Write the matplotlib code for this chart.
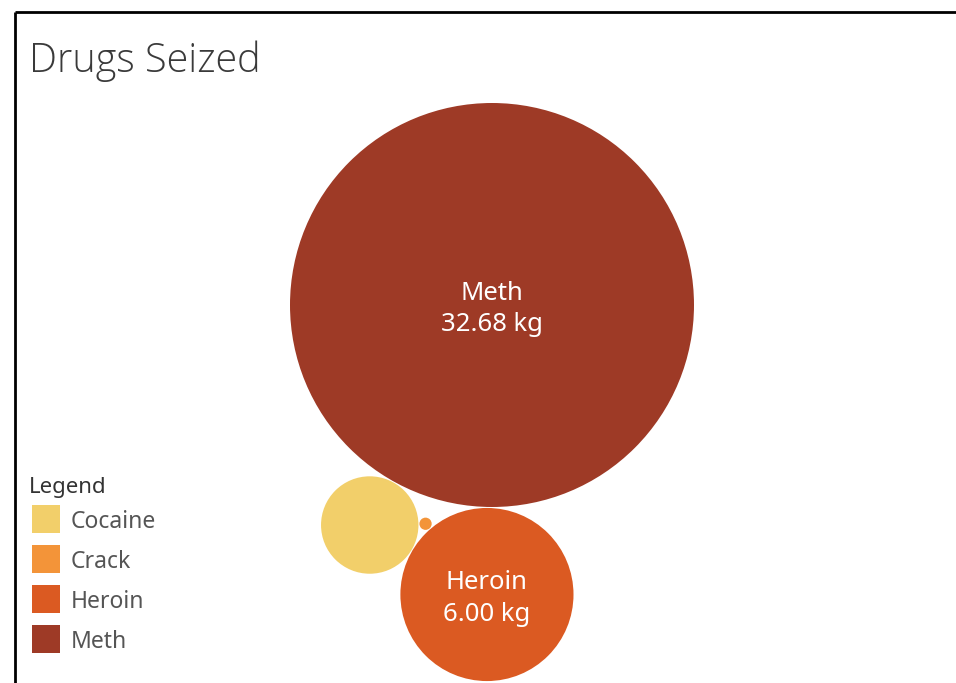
import numpy as np
import matplotlib.pyplot as plt
from matplotlib.patches import Circle, Rectangle

# ---- data ----
drugs = ["Cocaine", "Crack", "Heroin", "Meth"]
amounts_kg = [1.90, 0.03, 6.00, 32.68]
colors = ["#F2CF6A", "#F39439", "#DB5A22", "#9E3A26"]
labeled = ["Heroin", "Meth"]
title = "Drugs Seized"
legend_title = "Legend"

W, H = 956, 683
fig = plt.figure(figsize=(W / 100, H / 100), dpi=100)
ax = fig.add_axes([0, 0, 1, 1])
ax.set_xlim(0, W)
ax.set_ylim(H, 0)
ax.set_aspect("equal")
ax.axis("off")

FONT = "Noto Sans"

# border lines
ax.plot([15, W], [12, 12], color="black", lw=2, solid_capstyle="butt")
ax.plot([15, 15], [12, H], color="black", lw=2, solid_capstyle="butt")

# title
ax.text(29, 61, title, fontsize=28.5, color="#3a3a3a", family=["Open Sans", FONT],
        fontweight="light", va="center", ha="left")

# radius scale (area proportional to value)
val = dict(zip(drugs, amounts_kg))
col = dict(zip(drugs, colors))
k = 202 / np.sqrt(max(amounts_kg))
rad = {d: k * np.sqrt(v) for d, v in val.items()}
gap = 1.0


def tangent(c1, r1, c2, r2, r, side):
    d = np.linalg.norm(c2 - c1)
    a = r1 + r + gap
    b = r2 + r + gap
    x = (a * a - b * b + d * d) / (2 * d)
    h = np.sqrt(max(a * a - x * x, 0))
    u = (c2 - c1) / d
    n = np.array([-u[1], u[0]])
    return c1 + x * u + side * h * n


# simple front-chain packing
pos = {}
pos["Meth"] = np.array([492.0, 305.0])
ang = np.deg2rad(-1.0)
pos["Heroin"] = pos["Meth"] + (rad["Meth"] + rad["Heroin"] + gap) * np.array([np.sin(ang), np.cos(ang)])
pos["Cocaine"] = tangent(pos["Meth"], rad["Meth"], pos["Heroin"], rad["Heroin"], rad["Cocaine"], +1)
pos["Crack"] = tangent(pos["Cocaine"], rad["Cocaine"], pos["Heroin"], rad["Heroin"], rad["Crack"], -1)

for d in drugs:
    ax.add_patch(Circle(pos[d], rad[d], facecolor=col[d], edgecolor="none"))
    if d in labeled:
        ax.text(pos[d][0], pos[d][1] + 4, f"{d}\n{val[d]:.2f} kg", color="white",
                fontsize=18.5, family=FONT, ha="center", va="center", linespacing=1.36)

# legend
ax.text(29, 488, legend_title, fontsize=16, color="#333333", family=FONT,
        fontweight="semibold", va="center", ha="left")
for i, d in enumerate(drugs):
    y0 = 505 + 40 * i
    ax.add_patch(Rectangle((32, y0), 28, 28, facecolor=col[d], edgecolor="none"))
    ax.text(71, y0 + 17, d, fontsize=16.5, color="#555555", family=FONT,
            va="center", ha="left")

fig.savefig("out.png", dpi=100)
